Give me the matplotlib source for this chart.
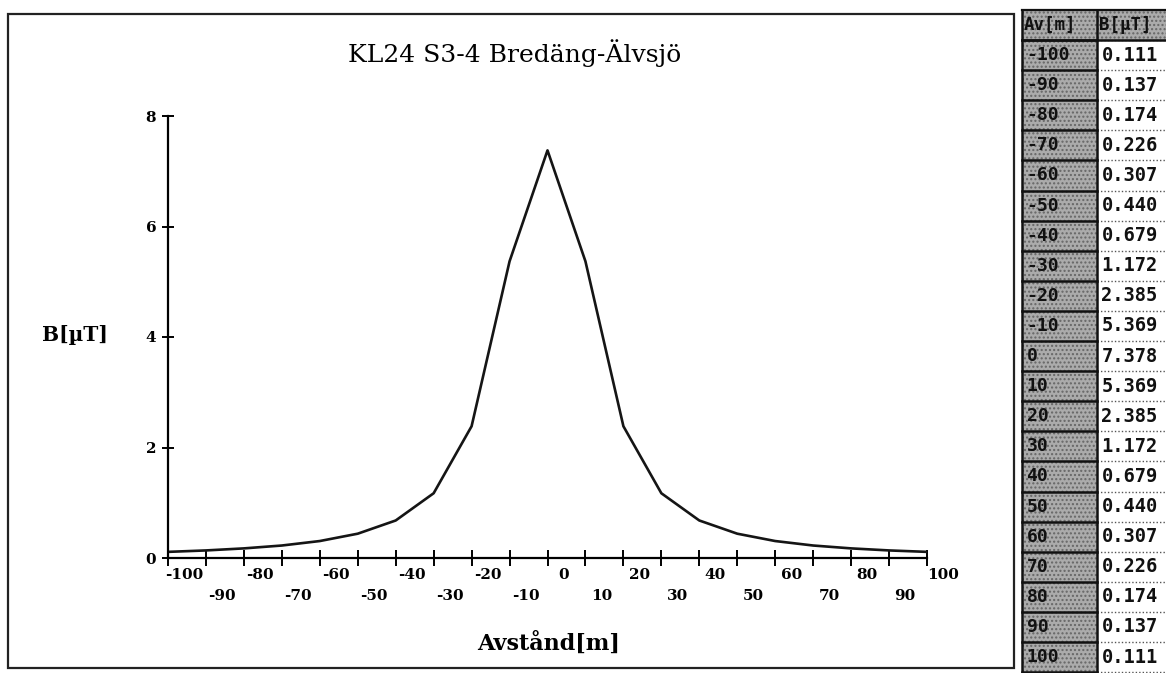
import matplotlib
matplotlib.use('Agg')
import matplotlib.pyplot as plt
from matplotlib.patches import Rectangle
from matplotlib.transforms import ScaledTranslation

dist = [-100, -90, -80, -70, -60, -50, -40, -30, -20, -10, 0,
        10, 20, 30, 40, 50, 60, 70, 80, 90, 100]
b_field = [0.111, 0.137, 0.174, 0.226, 0.307, 0.440, 0.679, 1.172, 2.385, 5.369, 7.378,
           5.369, 2.385, 1.172, 0.679, 0.440, 0.307, 0.226, 0.174, 0.137, 0.111]
y_ticks = [0, 2, 4, 6, 8]
title = 'KL24 S3-4 Bredäng-Älvsjö'
col_headers = ['Av[m]', 'B[µT]']

W, H = 1166, 673
fig = plt.figure(figsize=(W / 100, H / 100), dpi=100)
fig.patch.set_facecolor('white')

serif = 'DejaVu Serif'

# frame around the chart
fig.add_artist(Rectangle((8 / W, 1 - 668 / H), (1014 - 8) / W, (668 - 14) / H,
                         transform=fig.transFigure, fill=False, lw=1.6, ec='#222222'))

ax = fig.add_axes([168 / W, 1 - 558 / H, (927 - 168) / W, (558 - 116) / H])
ax.plot(dist, b_field, color='#151515', lw=1.9)
ax.set_xlim(-100, 100)
ax.set_ylim(0, 8)
for s in ['top', 'right']:
    ax.spines[s].set_visible(False)
for s in ['left', 'bottom']:
    ax.spines[s].set_linewidth(1.6)

ax.set_yticks(y_ticks)
ax.set_yticklabels([str(v) for v in y_ticks], fontfamily=serif, fontsize=11, fontweight='bold')
ax.tick_params(axis='y', direction='inout', length=9, width=1.4, pad=4)

# staggered x labels: multiples of 20 on top row, the others below
ax.set_xticks(dist[::2])
ax.set_xticks(dist[1::2], minor=True)
ax.set_xticklabels([str(v) for v in dist[::2]], fontfamily=serif, fontsize=11, fontweight='bold')
ax.set_xticklabels([str(v) for v in dist[1::2]], minor=True, fontfamily=serif, fontsize=11,
                   fontweight='bold')
ax.tick_params(axis='x', which='major', direction='inout', length=12, width=1.4, pad=1)
ax.tick_params(axis='x', which='minor', direction='inout', length=12, width=1.4, pad=16)
shift = ScaledTranslation(0.16, 0, fig.dpi_scale_trans)
for lab in ax.get_xticklabels() + ax.get_xticklabels(minor=True):
    lab.set_transform(lab.get_transform() + shift)

fig.text(515 / W, 1 - 62 / H, title, ha='center', va='baseline', fontfamily=serif, fontsize=18)
fig.text(75 / W, 1 - 335 / H, 'B[µT]', ha='center', va='center', fontfamily=serif,
         fontsize=14.5, fontweight='bold')
fig.text(549 / W, 1 - 643 / H, 'Avstånd[m]', ha='center', va='center', fontfamily=serif,
         fontsize=16, fontweight='bold')

# data table on the right
axt = fig.add_axes([1016 / W, 0, 150 / W, 1])
axt.set_xlim(0, 1)
axt.set_ylim(21.53, -0.83)
axt.axis('off')
c0, c1, c2 = 0.04, 0.54, 1.05
n = len(dist)
for k in range(n + 1):
    top, bot = k - 0.5, k + 0.5
    axt.add_patch(Rectangle((c0, top), c1 - c0, 1, facecolor='#ababab', hatch='....',
                            edgecolor='#666666', lw=0))
    if k == 0:
        axt.add_patch(Rectangle((c1, top), c2 - c1, 1, facecolor='#ababab', hatch='....',
                                edgecolor='#666666', lw=0))
    axt.plot([c0, c1], [bot, bot], color='#111111', lw=1.8)
    axt.plot([c1, c2], [bot, bot], color='#555555', lw=1.0, ls=(0, (1, 1.5)))
axt.plot([c0, c2], [-0.5, -0.5], color='#111111', lw=1.6)
axt.plot([c0, c0], [-0.5, n + 0.8], color='#111111', lw=1.8)
axt.plot([c1, c1], [-0.5, n + 0.8], color='#111111', lw=1.8)
axt.plot([c0, c2], [0.5, 0.5], color='#111111', lw=1.8)

mono = 'DejaVu Sans Mono'
axt.text(0.05, 0, col_headers[0], ha='left', va='center', fontfamily=mono,
         fontsize=12.5, fontweight='bold', color='#111111')
axt.text(0.55, 0, col_headers[1], ha='left', va='center', fontfamily=mono,
         fontsize=12.5, fontweight='bold', color='#111111')
for i, (d, b) in enumerate(zip(dist, b_field)):
    axt.text(0.07, i + 1, str(d), ha='left', va='center', fontfamily=mono,
             fontsize=13, fontweight='bold', color='#111111')
    axt.text(0.57, i + 1, f'{b:.3f}', ha='left', va='center', fontfamily=mono,
             fontsize=13.5, fontweight='bold', color='#111111')

fig.savefig('out.png', dpi=100)
